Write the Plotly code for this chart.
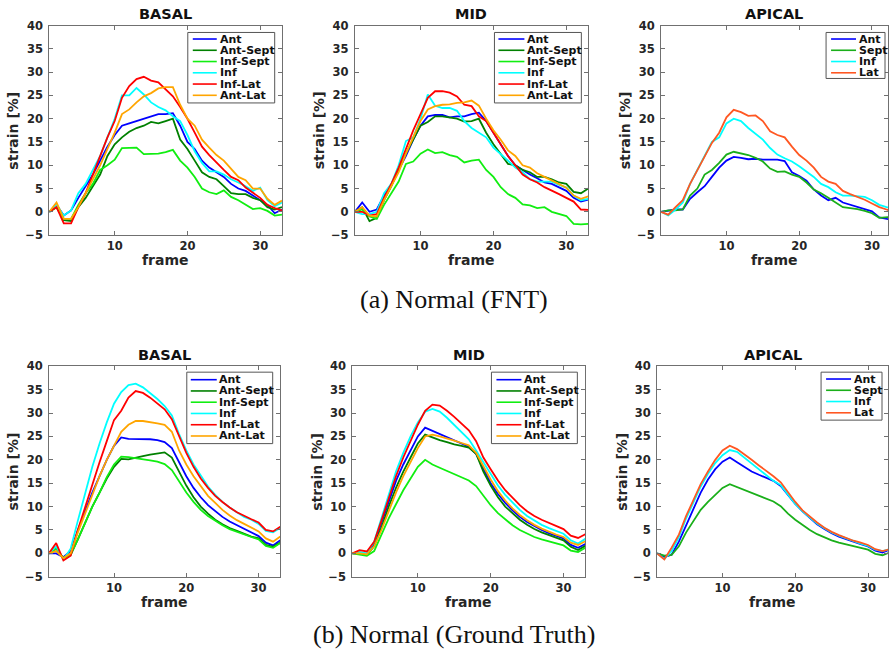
import plotly.graph_objects as go

W, H = 889, 666

frames = list(range(1, 34))

seg6 = ["Ant", "Ant-Sept", "Inf-Sept", "Inf", "Inf-Lat", "Ant-Lat"]
seg4 = ["Ant", "Sept", "Inf", "Lat"]
col6 = ["#0000FF", "#008000", "#11EE11", "#00FFFF", "#FF0000", "#FFA500"]
col4 = ["#0000FF", "#1AAF1A", "#00FFFF", "#FF5722"]

# ---------------- (a) Normal (FNT) ----------------
fnt_basal_ant = [0, 1.5, -0.8, 0.3, 3, 5.5, 8, 11, 14, 16.5, 18.5, 19, 19.5, 20, 20.5, 21, 21, 21.2, 18.5, 15, 13.5, 11, 9.5, 8.5, 7.5, 6, 5, 4.5, 3.5, 2.5, 1.5, -0.3, 0.5]
fnt_basal_antsept = [0, 1, -1.8, -2, 1, 3, 5.5, 8, 12, 14.5, 16, 17.2, 18, 18.5, 19.3, 19, 19.5, 20, 15.5, 13.5, 11, 8.5, 7.5, 7, 5.5, 4, 3.8, 3.8, 3, 2.5, 1, 0.5, 1]
fnt_basal_infsept = [0, 1, -1.5, -1.5, 1.5, 4, 6, 9, 10, 11.2, 13.7, 13.7, 13.8, 12.4, 12.4, 12.5, 12.8, 13.3, 11, 9.5, 7.5, 5, 4.2, 3.8, 4.6, 3.2, 2.5, 1.5, 0.6, 0.8, 0.2, -0.8, -0.6]
fnt_basal_inf = [0, 1.5, -0.8, 0.3, 4, 6, 9, 12, 16, 20, 25, 25, 26.6, 25.2, 23.5, 22.5, 21.8, 20.5, 19.5, 16.5, 13, 10.5, 8.7, 8.7, 8, 7, 6.3, 5.5, 4.5, 5.2, 2.5, 1.2, 2]
fnt_basal_inflat = [0, 1, -2.5, -2.5, 1, 4, 8, 12, 16, 19.5, 24.5, 27, 28.5, 29, 28.2, 27.8, 26.2, 24.8, 22.5, 20, 17, 14, 12.2, 10.5, 9, 7.5, 6.8, 5.2, 4, 3, 1.5, 0.8, 0.3]
fnt_basal_antlat = [0, 2, -1.5, -1.5, 1, 4, 7, 10, 13.5, 17, 21, 22, 23.5, 24.8, 25.5, 26.5, 26.8, 26.8, 23, 20, 18.5, 15.5, 13.8, 12.2, 11, 9.2, 7.5, 6.8, 5, 5, 2.8, 1.5, 2.4]

fnt_mid_ant = [0, 2, 0, 0.5, 3.5, 6, 9, 12, 15.5, 18.5, 20.5, 20.8, 20.8, 20.3, 20.5, 20.5, 21, 21.3, 19.5, 17, 14.5, 12, 10, 9, 8, 7.2, 6.3, 6, 5.3, 4.5, 3, 2.2, 2.6]
fnt_mid_antsept = [0, 1, -2, -1.3, 2.5, 5.5, 9, 12.5, 15.5, 18.5, 19.3, 20.5, 20.5, 20.3, 20, 19.4, 19.5, 20, 17, 14.5, 12.5, 10.3, 10, 9, 8.5, 7.5, 7.5, 7, 6.3, 6, 4.3, 4, 5]
fnt_mid_infsept = [0, 0.5, -1, -1.5, 1.5, 4, 6.5, 10.3, 10.8, 12.5, 13.4, 12.6, 12.8, 12.2, 11.8, 10.6, 11, 11.2, 9, 7.5, 5.3, 3.8, 3, 1.6, 1.4, 0.8, 1, 0, -0.5, -0.9, -2.6, -2.7, -2.6]
fnt_mid_inf = [0, -0.5, -0.5, 0, 4, 6, 10, 15.2, 16, 20, 25.2, 22.8, 22.3, 22.3, 21.7, 19.5, 18, 17, 16, 13.8, 12.5, 11, 9.5, 8.5, 7, 6.5, 6.5, 6.5, 5.8, 5.2, 3.5, 2.5, 2.8]
fnt_mid_inflat = [0, 0, -0.8, -0.5, 3, 6, 9.5, 13.5, 17.5, 21, 24.5, 25.9, 25.9, 25.6, 24.8, 23, 22.7, 20.5, 19.5, 17, 14.5, 12, 10, 8, 7, 6.3, 5.3, 4.6, 3.8, 3, 2.2, 0.5, 0.4]
fnt_mid_antlat = [0, 1, -0.8, -1, 2.5, 5.5, 8.5, 12.5, 16, 19.5, 22, 22.7, 23, 23.1, 23.4, 23.5, 23.9, 22.8, 20, 17.5, 15.5, 13.2, 12, 10, 9.5, 8.3, 7.5, 6.7, 6, 5.2, 3.5, 2.8, 3.3]

fnt_apical_ant = [0, 0.3, 0.5, 0.5, 2.8, 4.2, 5.5, 7.5, 9.5, 11, 11.8, 11.6, 11.3, 11.4, 11.2, 11.2, 11.2, 10.9, 8.5, 7.7, 6.7, 4.8, 3.5, 2.5, 3, 2, 1.5, 1, 0.5, 0.1, -1.2, -1.6, -1.8]
fnt_apical_sept = [0, 0.3, 0.3, 0.5, 3.5, 5, 8, 9, 10.5, 12.3, 12.9, 12.6, 12.2, 11.6, 10.8, 9.3, 8.6, 8.7, 8, 7.5, 6.3, 4.8, 4, 3, 2, 1, 0.8, 0.6, 0.2, -0.3, -1.3, -1.1, -1]
fnt_apical_inf = [0, -0.8, 0.5, 2, 6, 9, 12, 15, 16, 19, 20, 19.5, 18, 16.8, 15.5, 13.7, 12.3, 11.5, 10.8, 9.8, 8.7, 7.5, 6, 5.3, 4.2, 3.5, 3.5, 3.3, 3.2, 2.5, 1.5, 1, 0.8]
fnt_apical_lat = [0, -0.6, 1, 2.5, 6, 9, 12, 14.8, 17, 20.3, 21.9, 21.4, 20.6, 20.7, 19.5, 17.3, 16.5, 16, 14, 12.2, 11, 9.5, 7.5, 6.5, 6, 4.5, 3.8, 3.2, 2.6, 1.8, 1, 0.5, 0]

# ---------------- (b) Normal (Ground Truth) ----------------
gt_basal_ant = [0, 0, -0.8, 0.5, 5, 9, 13, 16.5, 20, 23, 24.8, 24.5, 24.5, 24.5, 24.4, 24.2, 23.8, 22.5, 19.5, 16.5, 14, 12, 10.3, 9, 7.8, 6.8, 6, 5.2, 4.5, 3.7, 2.3, 1.7, 2.8]
gt_basal_antsept = [0, 1, -1, -0.3, 3, 6.5, 10, 13, 16, 18.5, 20.2, 20.1, 20.5, 20.8, 21.1, 21.4, 21.6, 20.5, 17.5, 14.5, 12, 10, 8.5, 7.2, 6.2, 5.4, 4.8, 4.2, 3.6, 3.2, 1.8, 1.4, 2.3]
gt_basal_infsept = [0, 1, -1, -0.3, 3, 6.5, 10, 13, 16.3, 19, 20.7, 20.6, 20.4, 20.2, 19.9, 19.6, 19.1, 17.8, 15.3, 13, 11, 9.3, 8, 7, 6, 5.2, 4.6, 4, 3.5, 3, 1.6, 1.2, 2.2]
gt_basal_inf = [0, 1.5, -1.3, 1, 7, 13, 18.5, 23.5, 28, 32, 34.5, 36, 36.3, 35.5, 34.3, 33, 31.5, 29.5, 25.5, 22, 19, 16.5, 14.3, 12.5, 11, 9.8, 8.8, 7.8, 7.2, 6.3, 4.8, 4.5, 5.5]
gt_basal_inflat = [0, 2.2, -1.5, -0.5, 5, 10, 15, 19.5, 24, 28.5, 30.5, 33.3, 34.7, 34.3, 33.3, 32, 30.8, 28.7, 25, 21.5, 18.5, 16, 14, 12.3, 11, 9.8, 8.8, 8, 7.3, 6.6, 5, 4.7, 5.7]
gt_basal_antlat = [0, 0.5, -1, 0, 4.5, 8.5, 12.5, 16.5, 20, 23, 26, 27.5, 28.3, 28.3, 28.1, 27.8, 27.5, 26, 22, 19, 16.5, 14.3, 12.3, 10.8, 9.3, 8.1, 7.1, 6.3, 5.5, 4.7, 3.2, 2.5, 3.6]

gt_mid_ant = [0, 0, -0.3, 2, 6.5, 11, 15.5, 19, 22, 25, 26.9, 26.2, 25.5, 24.8, 24.2, 23.5, 22.8, 21.3, 18, 15, 12.7, 10.8, 9.2, 7.8, 6.7, 5.8, 5, 4.3, 3.7, 3.2, 1.8, 1.2, 2]
gt_mid_antsept = [0, 0, -0.3, 1.5, 5.5, 10, 14, 17.5, 20.5, 23.5, 25.4, 24.8, 24.2, 23.8, 23.3, 23, 22.6, 21.3, 17.5, 14.5, 12, 10, 8.5, 7.2, 6.1, 5.2, 4.5, 3.9, 3.3, 2.8, 1.4, 0.7, 1.6]
gt_mid_infsept = [0, -0.2, -0.5, 0.5, 4, 7.5, 10.5, 13.5, 16, 18.5, 20, 19, 18.3, 17.6, 16.9, 16.2, 15.6, 14.4, 12.3, 10.3, 8.6, 7.2, 6, 5, 4.2, 3.5, 3, 2.6, 2.2, 1.7, 0.6, 0.3, 1.2]
gt_mid_inf = [0, 0.3, 0, 2.5, 7.5, 12.5, 17.5, 21.5, 25, 28, 30.3, 30.9, 30.3, 29, 27.5, 26, 24.4, 22, 19.5, 17, 14.5, 12.5, 10.8, 9.3, 8, 7, 6.1, 5.4, 4.8, 4.2, 2.8, 2.1, 3.1]
gt_mid_inflat = [0, 0.7, 0.4, 2.5, 7, 12, 16.5, 20.5, 24, 27.5, 30.5, 31.8, 31.6, 30.5, 29.2, 27.8, 26.3, 24, 20.5, 18, 15.6, 13.5, 11.8, 10.3, 9, 8, 7.2, 6.5, 5.8, 5.2, 3.8, 3.3, 4.1]
gt_mid_antlat = [0, 0, -0.2, 1.5, 5, 9, 13, 16.5, 19.5, 22.5, 25, 25.4, 25, 24.6, 24.1, 23.6, 23.1, 21.5, 18.5, 15.8, 13.3, 11.3, 9.6, 8.2, 7.1, 6.1, 5.3, 4.6, 4, 3.5, 2.3, 1.8, 2.6]

gt_apical_ant = [0, -0.8, -0.3, 2.5, 6, 9.5, 13, 15.8, 18, 19.6, 20.5, 19.5, 18.5, 17.5, 16.8, 16.1, 15.5, 14.4, 12.5, 10.6, 9, 7.5, 6.2, 5.2, 4.3, 3.6, 3, 2.5, 2, 1.5, 0.6, 0.2, 0.8]
gt_apical_sept = [0, -0.5, -0.3, 1.5, 4.5, 7, 9.3, 11, 12.5, 14, 14.8, 14.2, 13.5, 12.9, 12.3, 11.7, 11.1, 10.1, 8.5, 7.2, 6, 5, 4.1, 3.4, 2.8, 2.3, 1.9, 1.5, 1.2, 0.8, -0.1, -0.4, 0.2]
gt_apical_inf = [0, -1.2, 0.5, 3.5, 7.5, 11, 14.3, 17, 19.3, 21, 22.1, 21.7, 20.5, 19.3, 18, 16.7, 15.5, 14.6, 12.5, 10.6, 9, 7.6, 6.4, 5.4, 4.5, 3.8, 3.2, 2.6, 2.1, 1.6, 0.8, 0.5, 0.9]
gt_apical_lat = [0, -1.3, 1.2, 4, 8, 11.5, 14.8, 17.5, 20, 22, 23, 22.3, 21.2, 20, 18.8, 17.7, 16.5, 15.2, 13, 11, 9.2, 7.8, 6.6, 5.5, 4.6, 3.9, 3.3, 2.7, 2.3, 1.8, 0.9, 0.5, 0.9]

y_ticks = [-5, 0, 5, 10, 15, 20, 25, 30, 35, 40]
x_ticks = [10, 20, 30]

captions = ["(a) Normal (FNT)", "(b) Normal (Ground Truth)"]


def px(x):
    return x / W


def py(y):
    return 1 - y / H


# panel layout (pixel geometry)
panels = [
    dict(title="BASAL", names=seg6, colors=col6,
         data=[fnt_basal_ant, fnt_basal_antsept, fnt_basal_infsept, fnt_basal_inf, fnt_basal_inflat, fnt_basal_antlat],
         xd=(49.3, 282.3), yd=(19, 233), xr=(1, 33),
         box=(188, 26, 275, 98), ln=(193, 217), tx=219.5, ly0=32.7),
    dict(title="MID", names=seg6, colors=col6,
         data=[fnt_mid_ant, fnt_mid_antsept, fnt_mid_infsept, fnt_mid_inf, fnt_mid_inflat, fnt_mid_antlat],
         xd=(355.3, 588.9), yd=(19, 233), xr=(1, 33),
         box=(495, 26, 582, 98), ln=(499, 525), tx=526.5, ly0=32.7),
    dict(title="APICAL", names=seg4, colors=col4,
         data=[fnt_apical_ant, fnt_apical_sept, fnt_apical_inf, fnt_apical_lat],
         xd=(661.7, 889), yd=(19, 233), xr=(1, 32.2),
         box=(827, 26, 886, 73), ln=(832, 857), tx=858.5, ly0=32.7),
    dict(title="BASAL", names=seg6, colors=col6,
         data=[gt_basal_ant, gt_basal_antsept, gt_basal_infsept, gt_basal_inf, gt_basal_inflat, gt_basal_antlat],
         xd=(49, 280.6), yd=(367, 582), xr=(1, 33),
         box=(187, 373, 273, 446), ln=(191, 217), tx=218.5, ly0=380.7),
    dict(title="MID", names=seg6, colors=col6,
         data=[gt_mid_ant, gt_mid_antsept, gt_mid_infsept, gt_mid_inf, gt_mid_inflat, gt_mid_antlat],
         xd=(352.7, 586), yd=(367, 582), xr=(1, 33),
         box=(492, 373, 578, 446), ln=(497, 522), tx=523.5, ly0=380.7),
    dict(title="APICAL", names=seg4, colors=col4,
         data=[gt_apical_ant, gt_apical_sept, gt_apical_inf, gt_apical_lat],
         xd=(657.8, 889), yd=(367, 582), xr=(1, 32.75),
         box=(822, 373, 883, 422), ln=(827, 852), tx=853.5, ly0=380),
]

AXC = "#707070"
TXT = "#262626"
FONT = "DejaVu Sans"

fig = go.Figure()
shapes = []
annotations = []
layout_axes = {}

for i, p in enumerate(panels):
    k = "" if i == 0 else str(i + 1)
    xa, ya = "x" + k, "y" + k
    for name, color, vals in zip(p["names"], p["colors"], p["data"]):
        fig.add_trace(go.Scatter(x=frames, y=vals, mode="lines", name=name,
                                 line=dict(color=color, width=1.8),
                                 xaxis=xa, yaxis=ya, showlegend=False,
                                 cliponaxis=True))
    common = dict(showline=True, linecolor=AXC, linewidth=1, mirror="ticks",
                  ticks="inside", ticklen=4, tickcolor=AXC, tickwidth=1,
                  showgrid=False, zeroline=False, fixedrange=True,
                  tickfont=dict(family=FONT, size=11.5, color=TXT, weight="bold"))
    layout_axes["xaxis" + k] = dict(common, domain=[px(p["xd"][0]), px(p["xd"][1])],
                                    range=list(p["xr"]), tickvals=x_ticks,
                                    anchor=ya, ticklabelstandoff=0)
    layout_axes["yaxis" + k] = dict(common, domain=[py(p["yd"][1]), py(p["yd"][0])],
                                    range=[-5, 40], tickvals=y_ticks,
                                    anchor=xa, ticklabelstandoff=3)

    xc = (p["xd"][0] + min(p["xd"][1], p["xd"][0] + 233)) / 2
    yc = (p["yd"][0] + p["yd"][1]) / 2
    # subplot title
    annotations.append(dict(text=p["title"], x=px(xc), y=py(p["yd"][0] - 12),
                            xref="paper", yref="paper", showarrow=False,
                            xanchor="center", yanchor="middle", borderpad=0,
                            font=dict(family=FONT, size=14.5, color="#111", weight="bold")))
    # axis labels
    annotations.append(dict(text="frame", x=px(xc), y=py(p["yd"][1] + 25.5),
                            xref="paper", yref="paper", showarrow=False,
                            xanchor="center", yanchor="middle", borderpad=0,
                            font=dict(family=FONT, size=14, color=TXT, weight="bold")))
    annotations.append(dict(text="strain [%]", x=px(p["xd"][0] - 36), y=py(yc),
                            xref="paper", yref="paper", showarrow=False, textangle=-90,
                            xanchor="center", yanchor="middle", borderpad=0,
                            font=dict(family=FONT, size=14, color=TXT, weight="bold")))
    # manual legend
    bx0, by0, bx1, by1 = p["box"]
    shapes.append(dict(type="rect", xref="paper", yref="paper",
                       x0=px(bx0), x1=px(bx1), y0=py(by1), y1=py(by0),
                       line=dict(color="#555555", width=1), fillcolor="white"))
    for j, (name, color) in enumerate(zip(p["names"], p["colors"])):
        yy = p["ly0"] + j * 11.5
        shapes.append(dict(type="line", xref="paper", yref="paper",
                           x0=px(p["ln"][0]), x1=px(p["ln"][1]), y0=py(yy), y1=py(yy),
                           line=dict(color=color, width=1.6)))
        annotations.append(dict(text=name, x=px(p["tx"]), y=py(yy),
                                xref="paper", yref="paper", showarrow=False,
                                xanchor="left", yanchor="middle", borderpad=0,
                                font=dict(family=FONT, size=11, color="#111", weight="bold")))

# captions
for cap, yy in zip(captions, [299, 641]):
    annotations.append(dict(text=cap, x=px(455), y=py(yy), xref="paper", yref="paper",
                            showarrow=False, xanchor="center", yanchor="middle",
                            font=dict(family="Liberation Serif", size=26, color="#111")))

fig.update_layout(width=W, height=H, margin=dict(l=0, r=0, t=0, b=0),
                  paper_bgcolor="white", plot_bgcolor="white",
                  showlegend=False, shapes=shapes, annotations=annotations,
                  **layout_axes)

fig.write_html("out.html")
